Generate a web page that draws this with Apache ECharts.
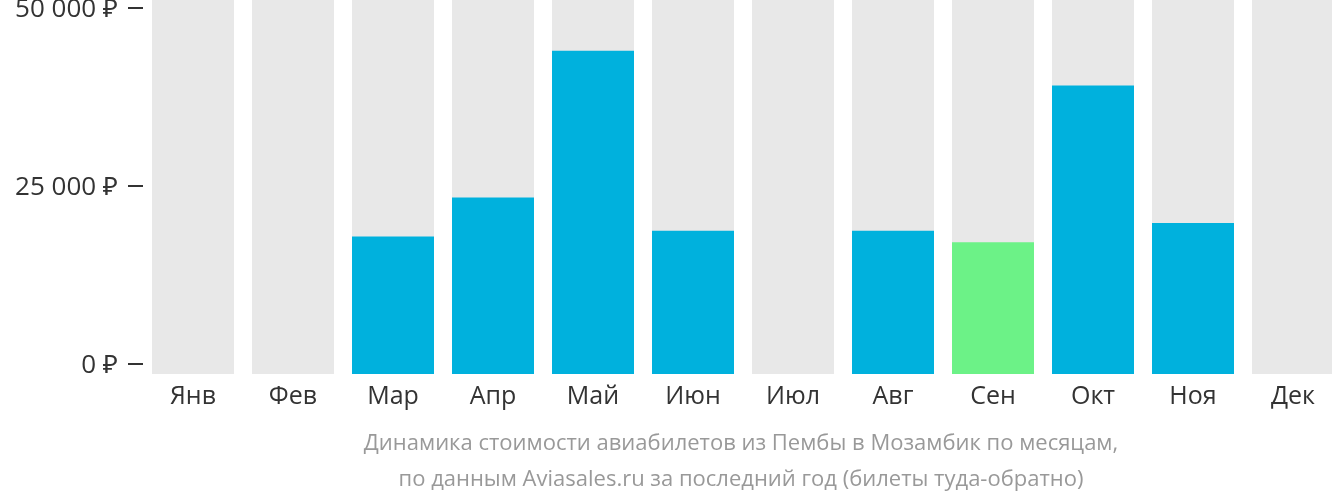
<!DOCTYPE html>
<html>
<head>
<meta charset="utf-8">
<script src="https://cdn.jsdelivr.net/npm/echarts@6/dist/echarts.min.js"></script>
<style>
html,body{margin:0;padding:0;background:#fff;}
#c{width:1332px;height:502px;}
</style>
</head>
<body>
<div id="c"></div>
<script>
const months = ['Янв','Фев','Мар','Апр','Май','Июн','Июл','Авг','Сен','Окт','Ноя','Дек'];
const prices = [null, null, 17900, 23400, 44000, 18700, null, 18700, 17100, 39100, 19800, null];
const yTickLabels = { 0: '0 ₽', 25000: '25 000 ₽', 50000: '50 000 ₽' };
const captionLines = [
  'Динамика стоимости авиабилетов из Пембы в Мозамбик по месяцам,',
  'по данным Aviasales.ru за последний год (билеты туда-обратно)'
];

const valid = prices.filter(v => v != null);
const minPrice = Math.min.apply(null, valid);

const chart = echarts.init(document.getElementById('c'), null, { renderer: 'canvas' });
const FONT = '"Open Sans", "Noto Sans", sans-serif';

chart.setOption({
  animation: false,
  grid: [
    { left: 143, top: 8, width: 1200, height: 356, outerBoundsMode: 'none', containLabel: false },
    { left: 143, top: 0, width: 1200, height: 374, outerBoundsMode: 'none', containLabel: false },
    { left: 143, top: 10, width: 1200, height: 356, outerBoundsMode: 'none', containLabel: false }
  ],
  xAxis: [
    { gridIndex: 0, type: 'category', data: months, show: false },
    {
      gridIndex: 1, type: 'category', data: months,
      axisLine: { show: false }, axisTick: { show: false },
      axisLabel: { color: '#333', fontSize: 25, fontFamily: FONT, margin: 10 }
    },
    { gridIndex: 2, type: 'category', data: months, show: false }
  ],
  yAxis: [
    {
      gridIndex: 0, type: 'value', min: 0, max: 50000, interval: 25000,
      axisLine: { show: false }, splitLine: { show: false },
      axisTick: { show: true, length: 15, lineStyle: { color: '#333', width: 2 } },
      axisLabel: { show: false }
    },
    {
      gridIndex: 0, type: 'value', min: 0, max: 50000, interval: 5000,
      axisLine: { show: false }, splitLine: { show: false },
      axisTick: { show: true, length: 7, lineStyle: { color: '#333', width: 2 } },
      axisLabel: { show: false }
    },
    {
      gridIndex: 1, type: 'value', min: -1404, max: 51124, startValue: -1404,
      show: false, splitLine: { show: false }
    },
    {
      gridIndex: 2, type: 'value', min: 0, max: 50000, interval: 25000,
      axisLine: { show: false }, splitLine: { show: false }, axisTick: { show: false },
      axisLabel: {
        color: '#333', fontSize: 26, fontFamily: FONT, margin: 25,
        formatter: v => yTickLabels[v] || ''
      }
    }
  ],
  series: [
    {
      type: 'bar', xAxisIndex: 1, yAxisIndex: 2,
      data: prices.map(v => v == null ? null : {
        value: v,
        itemStyle: { color: v === minPrice ? '#6cf287' : '#00b1dd' }
      }),
      barWidth: 82,
      showBackground: true,
      backgroundStyle: { color: '#e8e8e8' }
    }
  ],
  graphic: captionLines.map((t, i) => ({
    type: 'text',
    x: 741, y: 444 + i * 36,
    style: {
      text: t, fill: '#999', font: '22px ' + FONT,
      textAlign: 'center', textVerticalAlign: 'middle'
    }
  }))
});
</script>
</body>
</html>
